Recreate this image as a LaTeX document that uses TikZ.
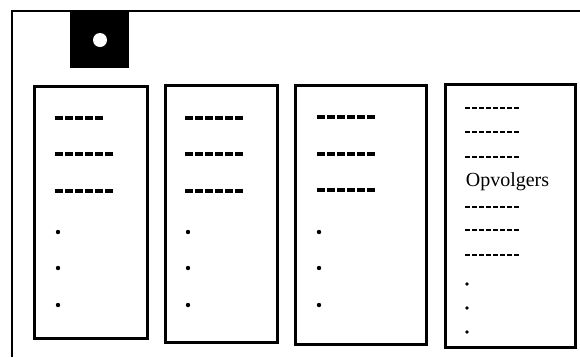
\documentclass[tikz,border=0pt]{standalone}
\usepackage{fontspec}
\setmainfont{Liberation Serif}
\usetikzlibrary{positioning}

\begin{document}
\begin{tikzpicture}[
    x=1pt, y=-1pt,
    card/.style={
      rectangle, draw=black, line width=3pt,
      fill=white, inner sep=0pt,
    },
    dashline/.style={line width=3.2pt, dash pattern=on 7.5pt off 2.5pt},
    thinline/.style={line width=1.6pt, dash pattern=on 5pt off 2pt},
    dotmark/.style={fill=black},
  ]
  \useasboundingbox (0,0) rectangle (580,357);

  % Frame with the black tab and its hole
  \draw[line width=2.6pt] (580,11) -- (12,11) -- (12,357);
  \node[fill=black, inner sep=0pt, minimum width=59pt, minimum height=57pt,
        anchor=north west] (tab) at (70,11) {};
  \node[circle, fill=white, inner sep=0pt, minimum size=14pt] (hole) at (100,40) {};

  % The four cards
  \node[card, minimum width=113pt, minimum height=252pt] (cardA) at (90.5,212) {};
  \node[card, minimum width=112pt, minimum height=257pt] (cardB) at (221,213.5) {};
  \node[card, minimum width=131pt, minimum height=259pt] (cardC) at (360.5,214.5) {};
  \node[card, minimum width=130pt, minimum height=263pt] (cardD) at (510,215.5) {};

  % Card A
  \draw[dashline] (55,118) -- (103,118);
  \draw[dashline] (55,154) -- (115,154);
  \draw[dashline] (55,191) -- (115,191);
  \fill[dotmark] (58,232) circle (2.2);
  \fill[dotmark] (58,268) circle (2.2);
  \fill[dotmark] (58,305) circle (2.2);

  % Card B
  \draw[dashline] (185,118) -- (245,118);
  \draw[dashline] (185,154) -- (245,154);
  \draw[dashline] (185,191) -- (245,191);
  \fill[dotmark] (188,232) circle (2.2);
  \fill[dotmark] (188,268) circle (2.2);
  \fill[dotmark] (188,305) circle (2.2);

  % Card C
  \draw[dashline] (317,117) -- (377,117);
  \draw[dashline] (317,154) -- (377,154);
  \draw[dashline] (317,190) -- (377,190);
  \fill[dotmark] (319,232) circle (2.2);
  \fill[dotmark] (319,268) circle (2.2);
  \fill[dotmark] (319,305) circle (2.2);

  % Card D: successors
  \draw[thinline] (465,108) -- (519,108);
  \draw[thinline] (465,132) -- (519,132);
  \draw[thinline] (465,157) -- (519,157);
  \node[font=\fontsize{20}{24}\selectfont, inner sep=0pt] (succ) at (507.5,182) {Opvolgers};
  \draw[thinline, line width=2pt] (465,207) -- (519,207);
  \draw[thinline, line width=2pt] (465,230) -- (519,230);
  \draw[thinline, line width=2pt] (465,255) -- (519,255);
  \fill[dotmark] (467,284) circle (1.8);
  \fill[dotmark] (467,308) circle (1.8);
  \fill[dotmark] (467,332) circle (1.8);

\end{tikzpicture}
\end{document}
